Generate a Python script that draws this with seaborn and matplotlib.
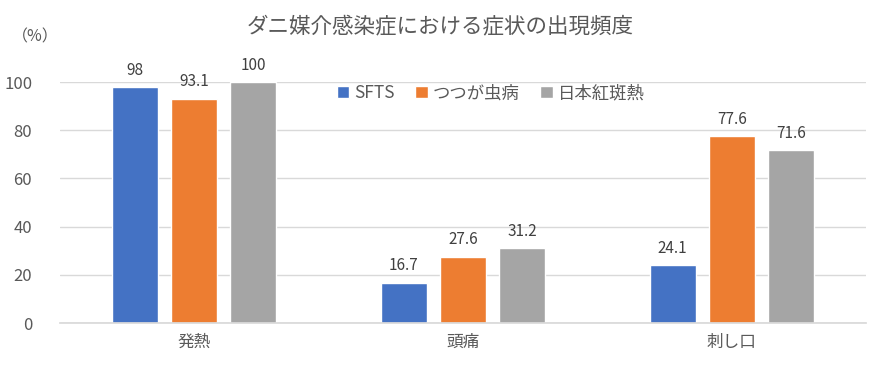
import matplotlib
matplotlib.use("Agg")
import matplotlib.pyplot as plt
import seaborn as sns
import pandas as pd

# データ
categories = ["発熱", "頭痛", "刺し口"]
series_names = ["SFTS", "つつが虫病", "日本紅斑熱"]
sfts = [98, 16.7, 24.1]
tsutsugamushi = [93.1, 27.6, 77.6]
jsf = [100, 31.2, 71.6]
colors = ["#4472C4", "#ED7D31", "#A5A5A5"]

df = pd.DataFrame({
    "症状": categories * 3,
    "疾患": [s for s in series_names for _ in categories],
    "割合": sfts + tsutsugamushi + jsf,
})

sns.set_theme(style="white")
plt.rcParams["font.family"] = ["Noto Sans CJK JP", "DejaVu Sans"]
text_color = "#595959"

fig = plt.figure(figsize=(8.81, 3.73), dpi=100)
ax = fig.add_axes([0.068, 0.134, 0.915, 0.646])

sns.barplot(data=df, x="症状", y="割合", hue="疾患", palette=colors,
            width=0.66, gap=0.22, saturation=1, ax=ax, legend=True)

for cont in ax.containers:
    ax.bar_label(cont, fmt="%g", padding=6, fontsize=11, color="#404040")

ax.set_ylim(0, 100)
ax.set_yticks(range(0, 101, 20))
ax.yaxis.grid(True, color="#D9D9D9", linewidth=1)
ax.set_axisbelow(True)
for s in ["top", "left", "right"]:
    ax.spines[s].set_visible(False)
ax.spines["bottom"].set_color("#D9D9D9")
ax.tick_params(axis="both", length=0, colors=text_color, labelsize=12)
ax.tick_params(axis="y", pad=20)
ax.tick_params(axis="x", pad=8)
ax.set_xlabel("")
ax.set_ylabel("")

ax.legend(loc="center", bbox_to_anchor=(0.557, 0.75), bbox_transform=fig.transFigure,
          ncol=3, frameon=False, fontsize=12.5, handlelength=0.7, handleheight=0.7,
          handletextpad=0.3, columnspacing=1.2, labelcolor=text_color)

fig.text(0.5, 0.93, "ダニ媒介感染症における症状の出現頻度", ha="center", va="center",
         fontsize=15.5, color=text_color)
fig.text(0.04, 0.9, "（%）", ha="center", va="center", fontsize=11.5, color=text_color)

fig.savefig("out.png", dpi=100)
